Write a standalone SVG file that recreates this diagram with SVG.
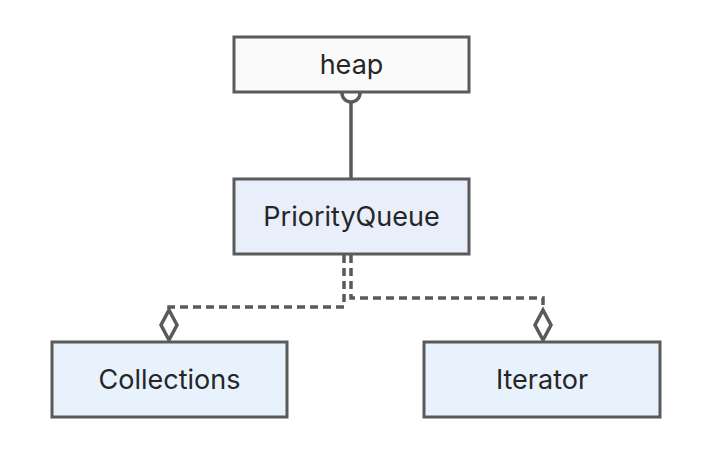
<svg xmlns="http://www.w3.org/2000/svg" width="716" height="466" viewBox="0 0 716 466">
<style>
.box{stroke:#5a5a5a;stroke-width:3}
.lbl{font-family:Inter,"Noto Sans",sans-serif;font-size:27px;fill:#262626;text-anchor:middle;dominant-baseline:central}
.edge{fill:none;stroke:#5a5a5a;stroke-width:3.5}
.dash{stroke-dasharray:8 5}
.dia{fill:#fff;stroke:#5a5a5a;stroke-width:3.5}
</style>
<rect width="716" height="466" fill="#fff"/>
<g id="connectors">
<path class="edge" d="M342,93 A9,9 0 0 0 360,93"/>
<line class="edge" x1="351" y1="102" x2="351" y2="178"/>
<path class="edge dash" d="M344,255 V307 H169 V310"/>
<path class="edge dash" d="M351,255 V298 H543 V310"/>
<path class="dia" d="M169,310 L177,325 L169,340 L161,325 Z"/>
<path class="dia" d="M543,310 L551,325 L543,340 L535,325 Z"/>
</g>
<g id="heap">
<rect class="box" x="234" y="37" width="235" height="55" fill="#fafafa"/>
<text class="lbl" x="351.5" y="64">heap</text>
</g>
<g id="PriorityQueue">
<rect class="box" x="234" y="179" width="235" height="75" fill="#e8eefa"/>
<text class="lbl" x="351.5" y="216">PriorityQueue</text>
</g>
<g id="Collections">
<rect class="box" x="52" y="342" width="235" height="75" fill="#e8f2fc"/>
<text class="lbl" x="169.5" y="379">Collections</text>
</g>
<g id="Iterator">
<rect class="box" x="424" y="342" width="236" height="75" fill="#e8f2fc"/>
<text class="lbl" x="542" y="379">Iterator</text>
</g>
</svg>
